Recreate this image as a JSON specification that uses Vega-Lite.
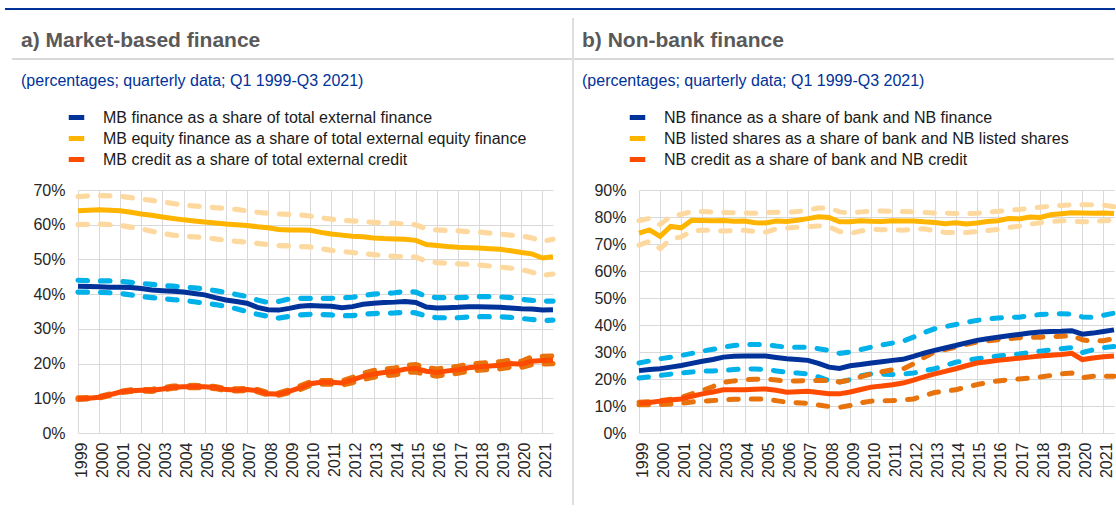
{
  "$schema": "https://vega.github.io/schema/vega-lite/v6.json",
  "padding": {"left": 5, "top": 8, "right": 0, "bottom": 0},
  "background": "white",
  "config": {
    "view": {"stroke": null},
    "font": "Liberation Sans",
    "axis": {"gridColor": "#d9d9d9", "gridWidth": 1, "labelColor": "#262626", "labelFontSize": 16, "domain": false, "ticks": false, "title": null},
    "legend": {"title": null, "orient": "none", "symbolType": "stroke", "symbolStrokeWidth": 5, "symbolSize": 240, "labelFontSize": 16, "labelColor": "#1a1a1a", "rowPadding": -1, "labelOffset": 16, "padding": 0, "labelLimit": 600}
  },
  "datasets": {
    "A": [
      {"t":1999.0,"m1":42.3,"h1":44.0,"l1":40.6,"m2":64.0,"h2":68.1,"l2":60.0,"m3":9.9,"h3":10.1,"l3":9.7},
      {"t":1999.5,"m1":42.2,"h1":43.9,"l1":40.6,"m2":64.2,"h2":68.3,"l2":60.1,"m3":10.0,"h3":10.2,"l3":9.8},
      {"t":2000.0,"m1":42.1,"h1":43.8,"l1":40.5,"m2":64.3,"h2":68.4,"l2":60.2,"m3":10.3,"h3":10.5,"l3":10.1},
      {"t":2000.5,"m1":42.0,"h1":43.8,"l1":40.4,"m2":64.2,"h2":68.3,"l2":60.0,"m3":11.0,"h3":11.2,"l3":10.8},
      {"t":2001.0,"m1":42.0,"h1":43.7,"l1":40.2,"m2":64.0,"h2":68.2,"l2":59.8,"m3":11.8,"h3":12.0,"l3":11.6},
      {"t":2001.5,"m1":41.9,"h1":43.4,"l1":39.8,"m2":63.6,"h2":67.8,"l2":59.3,"m3":12.2,"h3":12.4,"l3":12.0},
      {"t":2002.0,"m1":41.6,"h1":43.1,"l1":39.3,"m2":63.1,"h2":67.4,"l2":58.8,"m3":12.3,"h3":12.5,"l3":12.1},
      {"t":2002.5,"m1":41.2,"h1":42.8,"l1":39.0,"m2":62.7,"h2":67.0,"l2":58.1,"m3":12.3,"h3":12.6,"l3":12.0},
      {"t":2003.0,"m1":41.0,"h1":42.5,"l1":38.7,"m2":62.2,"h2":66.6,"l2":57.5,"m3":12.7,"h3":13.0,"l3":12.4},
      {"t":2003.5,"m1":40.8,"h1":42.3,"l1":38.4,"m2":61.8,"h2":66.1,"l2":57.0,"m3":13.2,"h3":13.5,"l3":12.9},
      {"t":2004.0,"m1":40.6,"h1":42.0,"l1":38.2,"m2":61.4,"h2":65.7,"l2":56.7,"m3":13.3,"h3":13.6,"l3":13.0},
      {"t":2004.5,"m1":40.2,"h1":41.8,"l1":37.8,"m2":61.1,"h2":65.4,"l2":56.5,"m3":13.4,"h3":13.7,"l3":13.1},
      {"t":2005.0,"m1":39.8,"h1":41.5,"l1":37.4,"m2":60.8,"h2":65.2,"l2":56.3,"m3":13.3,"h3":13.6,"l3":13.0},
      {"t":2005.5,"m1":39.0,"h1":41.0,"l1":37.0,"m2":60.5,"h2":64.9,"l2":55.9,"m3":13.1,"h3":13.4,"l3":12.8},
      {"t":2006.0,"m1":38.3,"h1":40.5,"l1":36.5,"m2":60.2,"h2":64.7,"l2":55.5,"m3":12.5,"h3":12.8,"l3":12.2},
      {"t":2006.5,"m1":37.9,"h1":39.9,"l1":35.8,"m2":60.0,"h2":64.4,"l2":55.2,"m3":12.4,"h3":12.7,"l3":12.1},
      {"t":2007.0,"m1":37.4,"h1":39.3,"l1":35.0,"m2":59.8,"h2":64.0,"l2":55.0,"m3":12.5,"h3":12.8,"l3":12.2},
      {"t":2007.5,"m1":36.2,"h1":38.3,"l1":34.2,"m2":59.4,"h2":63.6,"l2":54.6,"m3":12.2,"h3":12.5,"l3":11.9},
      {"t":2008.0,"m1":35.5,"h1":37.6,"l1":33.6,"m2":59.1,"h2":63.3,"l2":54.3,"m3":11.3,"h3":11.6,"l3":11.0},
      {"t":2008.5,"m1":35.4,"h1":37.9,"l1":33.1,"m2":58.6,"h2":63.1,"l2":54.0,"m3":11.2,"h3":11.5,"l3":10.9},
      {"t":2009.0,"m1":35.9,"h1":38.6,"l1":33.6,"m2":58.5,"h2":63.0,"l2":53.9,"m3":12.0,"h3":12.4,"l3":11.6},
      {"t":2009.5,"m1":36.5,"h1":38.8,"l1":34.0,"m2":58.5,"h2":62.8,"l2":53.7,"m3":13.0,"h3":13.5,"l3":12.5},
      {"t":2010.0,"m1":36.7,"h1":38.8,"l1":34.2,"m2":58.4,"h2":62.5,"l2":53.6,"m3":14.2,"h3":14.7,"l3":13.7},
      {"t":2010.5,"m1":36.6,"h1":38.8,"l1":34.1,"m2":57.8,"h2":62.0,"l2":53.1,"m3":14.6,"h3":15.1,"l3":14.1},
      {"t":2011.0,"m1":36.5,"h1":38.8,"l1":34.0,"m2":57.3,"h2":61.6,"l2":52.6,"m3":14.6,"h3":15.1,"l3":14.1},
      {"t":2011.5,"m1":36.1,"h1":38.9,"l1":33.8,"m2":57.0,"h2":61.3,"l2":52.3,"m3":14.4,"h3":15.0,"l3":13.8},
      {"t":2012.0,"m1":36.4,"h1":39.1,"l1":33.8,"m2":56.7,"h2":61.1,"l2":52.0,"m3":15.3,"h3":16.0,"l3":14.5},
      {"t":2012.5,"m1":37.1,"h1":39.6,"l1":34.2,"m2":56.5,"h2":60.9,"l2":51.7,"m3":16.3,"h3":17.2,"l3":15.4},
      {"t":2013.0,"m1":37.4,"h1":40.0,"l1":34.4,"m2":56.2,"h2":60.7,"l2":51.4,"m3":17.0,"h3":18.0,"l3":16.1},
      {"t":2013.5,"m1":37.6,"h1":40.2,"l1":34.5,"m2":56.0,"h2":60.5,"l2":51.1,"m3":17.4,"h3":18.4,"l3":16.5},
      {"t":2014.0,"m1":37.7,"h1":40.4,"l1":34.6,"m2":55.9,"h2":60.4,"l2":50.9,"m3":17.7,"h3":18.7,"l3":16.7},
      {"t":2014.5,"m1":37.9,"h1":40.8,"l1":34.8,"m2":55.8,"h2":60.2,"l2":50.8,"m3":18.4,"h3":19.5,"l3":17.4},
      {"t":2015.0,"m1":37.6,"h1":40.6,"l1":34.6,"m2":55.5,"h2":60.0,"l2":50.7,"m3":18.6,"h3":19.7,"l3":17.6},
      {"t":2015.5,"m1":36.3,"h1":39.3,"l1":33.7,"m2":54.3,"h2":58.8,"l2":49.5,"m3":17.8,"h3":18.8,"l3":16.8},
      {"t":2016.0,"m1":36.0,"h1":39.0,"l1":33.2,"m2":54.0,"h2":58.5,"l2":49.1,"m3":17.4,"h3":18.4,"l3":16.4},
      {"t":2016.5,"m1":36.1,"h1":39.0,"l1":33.2,"m2":53.7,"h2":58.3,"l2":48.9,"m3":17.9,"h3":18.9,"l3":16.9},
      {"t":2017.0,"m1":36.2,"h1":39.0,"l1":33.2,"m2":53.5,"h2":58.2,"l2":48.7,"m3":18.2,"h3":19.2,"l3":17.2},
      {"t":2017.5,"m1":36.4,"h1":39.1,"l1":33.4,"m2":53.4,"h2":58.0,"l2":48.6,"m3":18.8,"h3":19.8,"l3":17.8},
      {"t":2018.0,"m1":36.4,"h1":39.3,"l1":33.5,"m2":53.3,"h2":57.9,"l2":48.4,"m3":19.1,"h3":20.1,"l3":18.1},
      {"t":2018.5,"m1":36.3,"h1":39.3,"l1":33.5,"m2":53.1,"h2":57.6,"l2":48.1,"m3":19.3,"h3":20.3,"l3":18.3},
      {"t":2019.0,"m1":36.2,"h1":39.2,"l1":33.5,"m2":52.9,"h2":57.3,"l2":47.8,"m3":19.5,"h3":20.5,"l3":18.5},
      {"t":2019.5,"m1":36.0,"h1":39.0,"l1":33.3,"m2":52.5,"h2":57.0,"l2":47.5,"m3":20.0,"h3":21.0,"l3":19.0},
      {"t":2020.0,"m1":35.8,"h1":38.5,"l1":33.0,"m2":52.0,"h2":56.8,"l2":47.1,"m3":19.8,"h3":20.6,"l3":18.9},
      {"t":2020.5,"m1":35.7,"h1":38.2,"l1":32.7,"m2":51.6,"h2":56.2,"l2":46.3,"m3":20.7,"h3":21.9,"l3":19.7},
      {"t":2021.0,"m1":35.4,"h1":38.0,"l1":32.4,"m2":50.4,"h2":55.2,"l2":45.4,"m3":20.9,"h3":22.1,"l3":19.9},
      {"t":2021.5,"m1":35.5,"h1":38.0,"l1":32.5,"m2":50.8,"h2":55.8,"l2":45.8,"m3":21.0,"h3":22.2,"l3":20.0}
    ],
    "B": [
      {"t":1999.0,"m1":23.1,"h1":25.9,"l1":20.4,"m2":74.0,"h2":78.6,"l2":69.6,"m3":11.0,"h3":11.4,"l3":10.5},
      {"t":1999.5,"m1":23.5,"h1":26.7,"l1":20.8,"m2":75.2,"h2":79.5,"l2":71.0,"m3":11.3,"h3":11.6,"l3":10.5},
      {"t":2000.0,"m1":23.8,"h1":27.5,"l1":21.3,"m2":72.8,"h2":77.2,"l2":68.3,"m3":11.8,"h3":12.0,"l3":10.5},
      {"t":2000.5,"m1":24.4,"h1":28.1,"l1":21.8,"m2":76.5,"h2":80.2,"l2":71.8,"m3":12.2,"h3":12.5,"l3":10.7},
      {"t":2001.0,"m1":25.0,"h1":28.7,"l1":22.2,"m2":76.0,"h2":81.0,"l2":72.6,"m3":12.6,"h3":13.2,"l3":11.0},
      {"t":2001.5,"m1":25.8,"h1":29.5,"l1":22.6,"m2":78.8,"h2":82.0,"l2":74.8,"m3":13.6,"h3":14.5,"l3":11.5},
      {"t":2002.0,"m1":26.6,"h1":30.3,"l1":22.9,"m2":78.7,"h2":82.0,"l2":75.1,"m3":14.5,"h3":15.7,"l3":11.8},
      {"t":2002.5,"m1":27.2,"h1":31.0,"l1":23.0,"m2":78.6,"h2":81.8,"l2":75.0,"m3":15.2,"h3":17.2,"l3":12.0},
      {"t":2003.0,"m1":28.1,"h1":31.8,"l1":23.1,"m2":78.7,"h2":81.7,"l2":74.8,"m3":16.0,"h3":18.8,"l3":12.3},
      {"t":2003.5,"m1":28.4,"h1":32.4,"l1":23.5,"m2":78.4,"h2":81.6,"l2":74.9,"m3":16.0,"h3":19.3,"l3":12.5},
      {"t":2004.0,"m1":28.5,"h1":32.8,"l1":23.8,"m2":78.5,"h2":81.5,"l2":75.1,"m3":16.0,"h3":19.7,"l3":12.6},
      {"t":2004.5,"m1":28.5,"h1":32.8,"l1":23.7,"m2":77.9,"h2":81.4,"l2":74.6,"m3":16.2,"h3":19.9,"l3":12.6},
      {"t":2005.0,"m1":28.5,"h1":32.8,"l1":23.5,"m2":77.8,"h2":81.6,"l2":74.4,"m3":16.3,"h3":20.0,"l3":12.6},
      {"t":2005.5,"m1":28.0,"h1":32.2,"l1":23.0,"m2":78.5,"h2":81.8,"l2":75.6,"m3":15.8,"h3":19.6,"l3":12.0},
      {"t":2006.0,"m1":27.5,"h1":31.8,"l1":22.5,"m2":78.3,"h2":81.7,"l2":75.9,"m3":15.1,"h3":19.2,"l3":11.4},
      {"t":2006.5,"m1":27.2,"h1":31.8,"l1":22.2,"m2":78.8,"h2":82.0,"l2":76.2,"m3":15.3,"h3":19.3,"l3":11.2},
      {"t":2007.0,"m1":26.9,"h1":31.8,"l1":21.9,"m2":79.4,"h2":82.6,"l2":76.4,"m3":15.5,"h3":19.4,"l3":11.0},
      {"t":2007.5,"m1":25.8,"h1":31.2,"l1":20.8,"m2":80.1,"h2":83.3,"l2":76.7,"m3":15.0,"h3":19.4,"l3":10.4},
      {"t":2008.0,"m1":24.4,"h1":30.6,"l1":19.4,"m2":79.8,"h2":83.4,"l2":76.4,"m3":14.5,"h3":19.4,"l3":9.8},
      {"t":2008.5,"m1":23.9,"h1":29.5,"l1":18.9,"m2":78.2,"h2":81.9,"l2":74.6,"m3":14.5,"h3":18.9,"l3":9.5},
      {"t":2009.0,"m1":24.9,"h1":30.0,"l1":19.8,"m2":78.2,"h2":81.5,"l2":73.9,"m3":15.2,"h3":19.6,"l3":10.2},
      {"t":2009.5,"m1":25.4,"h1":30.9,"l1":21.2,"m2":78.6,"h2":81.9,"l2":74.8,"m3":16.1,"h3":20.8,"l3":11.2},
      {"t":2010.0,"m1":25.9,"h1":31.8,"l1":21.9,"m2":78.4,"h2":82.2,"l2":75.4,"m3":17.0,"h3":21.9,"l3":11.8},
      {"t":2010.5,"m1":26.4,"h1":32.6,"l1":21.8,"m2":78.3,"h2":82.2,"l2":75.3,"m3":17.4,"h3":22.7,"l3":11.9},
      {"t":2011.0,"m1":26.9,"h1":33.3,"l1":21.7,"m2":78.6,"h2":82.1,"l2":75.2,"m3":17.9,"h3":23.4,"l3":12.0},
      {"t":2011.5,"m1":27.3,"h1":34.0,"l1":21.8,"m2":78.5,"h2":82.0,"l2":75.1,"m3":18.5,"h3":23.7,"l3":12.2},
      {"t":2012.0,"m1":28.4,"h1":35.5,"l1":22.2,"m2":78.5,"h2":81.9,"l2":75.4,"m3":19.6,"h3":25.6,"l3":12.6},
      {"t":2012.5,"m1":29.6,"h1":37.2,"l1":23.0,"m2":78.2,"h2":81.7,"l2":75.6,"m3":20.8,"h3":28.0,"l3":13.8},
      {"t":2013.0,"m1":30.6,"h1":38.6,"l1":23.8,"m2":78.0,"h2":81.5,"l2":74.9,"m3":21.9,"h3":30.0,"l3":15.0},
      {"t":2013.5,"m1":31.5,"h1":39.4,"l1":25.0,"m2":77.5,"h2":81.4,"l2":74.3,"m3":22.8,"h3":30.9,"l3":15.5},
      {"t":2014.0,"m1":32.4,"h1":40.2,"l1":26.2,"m2":77.9,"h2":81.3,"l2":74.3,"m3":23.8,"h3":31.8,"l3":16.0},
      {"t":2014.5,"m1":33.4,"h1":41.0,"l1":26.9,"m2":77.4,"h2":81.2,"l2":74.3,"m3":24.9,"h3":32.8,"l3":17.0},
      {"t":2015.0,"m1":34.3,"h1":41.7,"l1":27.5,"m2":77.8,"h2":81.4,"l2":74.6,"m3":25.9,"h3":33.7,"l3":17.9},
      {"t":2015.5,"m1":34.9,"h1":42.2,"l1":28.0,"m2":78.3,"h2":81.8,"l2":75.0,"m3":26.4,"h3":34.1,"l3":18.7},
      {"t":2016.0,"m1":35.5,"h1":42.6,"l1":28.5,"m2":78.6,"h2":82.1,"l2":75.4,"m3":26.9,"h3":34.5,"l3":19.3},
      {"t":2016.5,"m1":36.0,"h1":42.8,"l1":28.9,"m2":79.4,"h2":82.5,"l2":76.1,"m3":27.3,"h3":34.9,"l3":19.7},
      {"t":2017.0,"m1":36.5,"h1":42.9,"l1":29.3,"m2":79.3,"h2":82.8,"l2":76.6,"m3":27.7,"h3":35.3,"l3":20.0},
      {"t":2017.5,"m1":37.0,"h1":43.4,"l1":29.8,"m2":80.0,"h2":83.2,"l2":77.3,"m3":28.1,"h3":35.4,"l3":20.3},
      {"t":2018.0,"m1":37.4,"h1":43.9,"l1":30.3,"m2":79.8,"h2":83.6,"l2":77.9,"m3":28.5,"h3":35.5,"l3":20.7},
      {"t":2018.5,"m1":37.6,"h1":44.0,"l1":30.8,"m2":80.8,"h2":84.0,"l2":78.3,"m3":28.8,"h3":35.7,"l3":21.3},
      {"t":2019.0,"m1":37.7,"h1":44.2,"l1":31.2,"m2":81.2,"h2":84.3,"l2":78.6,"m3":29.1,"h3":35.8,"l3":21.9},
      {"t":2019.5,"m1":37.9,"h1":44.0,"l1":31.6,"m2":81.6,"h2":84.5,"l2":78.5,"m3":29.5,"h3":36.1,"l3":22.2},
      {"t":2020.0,"m1":36.6,"h1":43.0,"l1":29.8,"m2":81.5,"h2":84.5,"l2":78.2,"m3":27.2,"h3":34.5,"l3":20.5},
      {"t":2020.5,"m1":37.0,"h1":42.8,"l1":30.8,"m2":81.4,"h2":84.5,"l2":78.3,"m3":27.8,"h3":34.0,"l3":21.0},
      {"t":2021.0,"m1":37.6,"h1":43.6,"l1":31.6,"m2":81.5,"h2":84.4,"l2":78.6,"m3":28.2,"h3":34.2,"l3":21.0},
      {"t":2021.5,"m1":38.2,"h1":44.4,"l1":32.0,"m2":81.3,"h2":83.8,"l2":78.8,"m3":28.5,"h3":35.0,"l3":21.0}
    ]
  },
  "spacing": 0,
  "vconcat": [
    {"width": 1110, "height": 2, "view": {"fill": "#003299", "stroke": null}, "data": {"values": []}, "mark": "text", "encoding": {"text": {"value": ""}}},
    {"width": 10, "height": 8, "data": {"values": []}, "mark": "text", "encoding": {"text": {"value": ""}}},
    {
      "spacing": 0,
      "hconcat": [
        {"width": 7, "height": 10, "data": {"values": []}, "mark": "text", "encoding": {"text": {"value": ""}}},
        {
          "bounds": "flush",
          "spacing": 0,
          "vconcat": [
            {"width": 10, "height": 40, "data": {"values": []}, "mark": "text", "encoding": {"text": {"value": ""}}},
            {"width": 560, "height": 2, "view": {"fill": "#d9d9d9", "stroke": null},
             "title": {"text": "a) Market-based finance", "anchor": "start", "dx": 9, "offset": 7, "fontSize": 21, "fontWeight": "bold", "color": "#595959"},
             "data": {"values": []}, "mark": "text", "encoding": {"text": {"value": ""}}},
            {"width": 10, "height": 130, "data": {"values": []}, "mark": "text", "encoding": {"text": {"value": ""}}},
            {
              "bounds": "flush",
              "spacing": 0,
              "hconcat": [
                {"width": 66, "height": 243, "data": {"values": []}, "mark": "text", "encoding": {"text": {"value": ""}}},
                {
                  "width": 475, "height": 243,
                  "title": {"text": "(percentages; quarterly data; Q1 1999-Q3 2021)", "anchor": "start", "frame": "group", "dx": -57, "offset": 18, "fontSize": 16, "fontWeight": "normal", "color": "#003299"},
                  "data": {"name": "A"},
                  "encoding": {
                    "x": {"field": "t", "type": "quantitative", "scale": {"domain": [1999, 2021.5], "nice": false, "zero": false},
                          "axis": {"values": [1999,2000,2001,2002,2003,2004,2005,2006,2007,2008,2009,2010,2011,2012,2013,2014,2015,2016,2017,2018,2019,2020,2021], "format": "d", "labelAngle": -90, "labelPadding": 9, "labelOffset": 3, "grid": true}},
                    "y": {"field": "v", "type": "quantitative", "scale": {"domain": [0, 70], "nice": false},
                          "axis": {"values": [0,10,20,30,40,50,60,70], "labelExpr": "datum.value + '%'", "labelPadding": 13, "grid": true}}
                  },
                  "layer": [
                    {"transform": [{"fold": ["h1","l1","h2","l2","h3","l3"], "as": ["k","v"]}],
                     "mark": {"type": "line", "strokeWidth": 5.2, "strokeDash": [9.5, 13], "strokeCap": "round"},
                     "encoding": {"color": {"field": "k", "type": "nominal", "scale": {"domain": ["h1","l1","h2","l2","h3","l3"], "range": ["#00b1ea","#00b1ea","#fdd9a0","#fdd9a0","#e8720c","#e8720c"]}, "legend": null}}},
                    {"transform": [{"fold": ["m1","m2","m3"], "as": ["k","v"]}],
                     "mark": {"type": "line", "strokeWidth": 5},
                     "encoding": {"color": {"field": "k", "type": "nominal", "scale": {"domain": ["m1","m2","m3"], "range": ["#003299","#ffb400","#ff4b00"]},
                       "legend": {"legendX": -12, "legendY": -83, "labelExpr": "{'m1': 'MB finance as a share of total external finance', 'm2': 'MB equity finance as a share of total external equity finance', 'm3': 'MB credit as a share of total external credit'}[datum.label]"}}}}
                  ],
                  "resolve": {"scale": {"color": "independent"}}
                }
              ]
            }
          ]
        },
        {"width": 2, "height": 487, "view": {"fill": "#dedede", "stroke": null}, "data": {"values": []}, "mark": "text", "encoding": {"text": {"value": ""}}},
        {
          "bounds": "flush",
          "spacing": 0,
          "vconcat": [
            {"width": 10, "height": 40, "data": {"values": []}, "mark": "text", "encoding": {"text": {"value": ""}}},
            {"width": 540, "height": 2, "view": {"fill": "#d9d9d9", "stroke": null},
             "title": {"text": "b) Non-bank finance", "anchor": "start", "dx": 8, "offset": 7, "fontSize": 21, "fontWeight": "bold", "color": "#595959"},
             "data": {"values": []}, "mark": "text", "encoding": {"text": {"value": ""}}},
            {"width": 10, "height": 130, "data": {"values": []}, "mark": "text", "encoding": {"text": {"value": ""}}},
            {
              "bounds": "flush",
              "spacing": 0,
              "hconcat": [
                {"width": 64.6, "height": 243, "data": {"values": []}, "mark": "text", "encoding": {"text": {"value": ""}}},
                {
                  "width": 475, "height": 243,
                  "title": {"text": "(percentages; quarterly data; Q1 1999-Q3 2021)", "anchor": "start", "frame": "group", "dx": -57, "offset": 18, "fontSize": 16, "fontWeight": "normal", "color": "#003299"},
                  "data": {"name": "B"},
                  "encoding": {
                    "x": {"field": "t", "type": "quantitative", "scale": {"domain": [1999, 2021.5], "nice": false, "zero": false},
                          "axis": {"values": [1999,2000,2001,2002,2003,2004,2005,2006,2007,2008,2009,2010,2011,2012,2013,2014,2015,2016,2017,2018,2019,2020,2021], "format": "d", "labelAngle": -90, "labelPadding": 9, "labelOffset": 3, "grid": true}},
                    "y": {"field": "v", "type": "quantitative", "scale": {"domain": [0, 90], "nice": false},
                          "axis": {"values": [0,10,20,30,40,50,60,70,80,90], "labelExpr": "datum.value + '%'", "labelPadding": 13, "grid": true}}
                  },
                  "layer": [
                    {"transform": [{"fold": ["h1","l1","h2","l2","h3","l3"], "as": ["k","v"]}],
                     "mark": {"type": "line", "strokeWidth": 5, "strokeDash": [9.5, 13], "strokeCap": "round"},
                     "encoding": {"color": {"field": "k", "type": "nominal", "scale": {"domain": ["h1","l1","h2","l2","h3","l3"], "range": ["#00b1ea","#00b1ea","#fdd9a0","#fdd9a0","#e8720c","#e8720c"]}, "legend": null}}},
                    {"transform": [{"fold": ["m1","m2","m3"], "as": ["k","v"]}],
                     "mark": {"type": "line", "strokeWidth": 5},
                     "encoding": {"color": {"field": "k", "type": "nominal", "scale": {"domain": ["m1","m2","m3"], "range": ["#003299","#ffb400","#ff4b00"]},
                       "legend": {"legendX": -12, "legendY": -83, "labelExpr": "{'m1': 'NB finance as a share of bank and NB finance', 'm2': 'NB listed shares as a share of bank and NB listed shares', 'm3': 'NB credit as a share of bank and NB credit'}[datum.label]"}}}}
                  ],
                  "resolve": {"scale": {"color": "independent"}}
                }
              ]
            }
          ]
        }
      ]
    }
  ]
}
